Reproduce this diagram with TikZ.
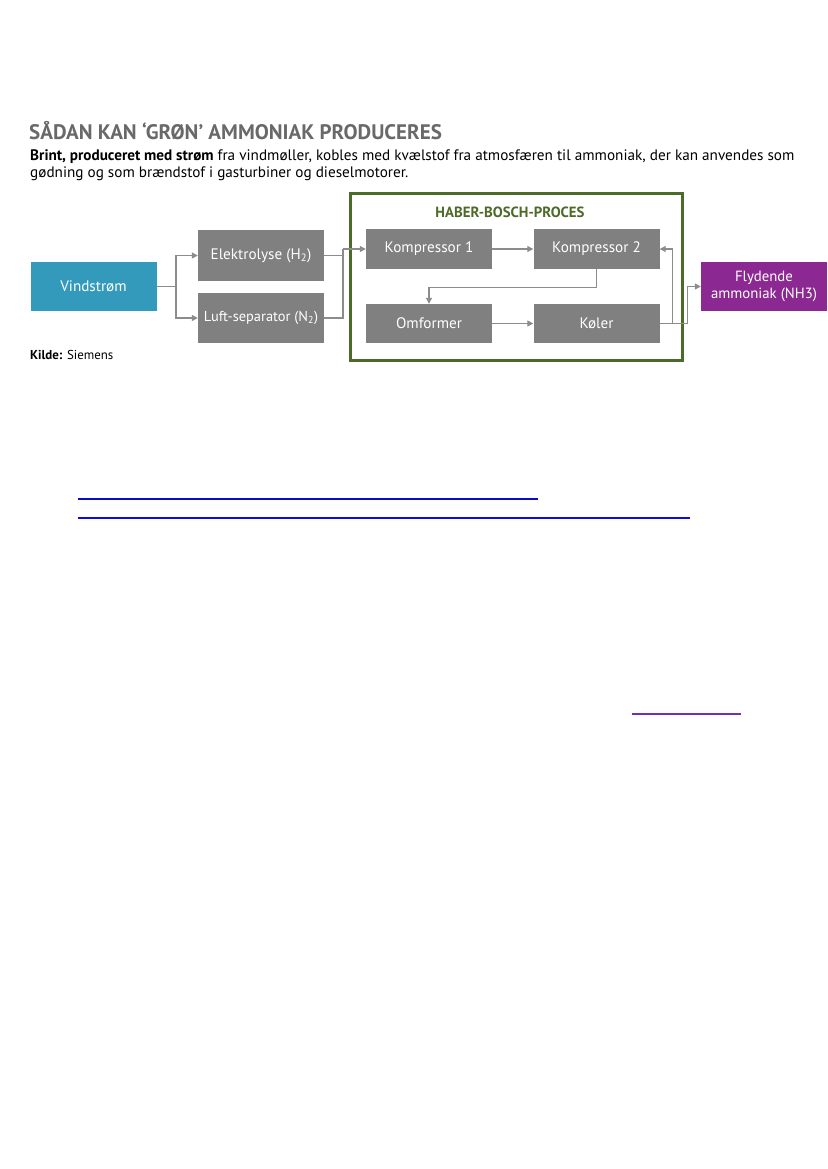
\documentclass[tikz,border=0pt]{standalone}
\usepackage{fontspec}
\setmainfont{PT Sans}
\usetikzlibrary{arrows.meta}
\definecolor{boxgray}{RGB}{128,128,128}
\definecolor{linegray}{RGB}{140,140,140}
\definecolor{teal}{RGB}{52,154,188}
\definecolor{purp}{RGB}{140,40,145}
\definecolor{hbgreen}{RGB}{76,106,40}
\definecolor{titlegray}{RGB}{105,105,105}
\begin{document}
\begin{tikzpicture}[x=1pt,y=-1pt,
  gbox/.style={fill=boxgray,text=white,minimum width=126pt,font=\fontsize{15.2}{17}\selectfont,inner sep=0pt},
  conn/.style={draw=linegray,line width=1.2pt},
  arr/.style={conn,-{Triangle[width=6pt,length=6pt]}},
  link/.style={line width=1.5pt}]
\useasboundingbox (0,0) rectangle (827,1169);
\fill[white] (0,0) rectangle (827,1169);
% heading
\node[anchor=base west,inner sep=0pt,text=titlegray,font=\fontsize{21}{24}\bfseries\selectfont] (title) at (29,140) {SÅDAN KAN ‘GRØN’ AMMONIAK PRODUCERES};
\node[anchor=base west,inner sep=0pt,font=\fontsize{15.2}{17}\selectfont] (sub1) at (30,161) {\textbf{Brint, produceret med strøm} fra vindmøller, kobles med kvælstof fra atmosfæren til ammoniak, der kan anvendes som};
\node[anchor=base west,inner sep=0pt,font=\fontsize{15.2}{17}\selectfont] (sub2) at (30,178) {gødning og som brændstof i gasturbiner og dieselmotorer.};
% boxes
\node[gbox,fill=teal,minimum height=49pt] (vind) at (93.5,286.5) {Vindstrøm};
\node[gbox,minimum height=51pt] (el) at (261,255.5) {Elektrolyse (H\textsubscript{2})};
\node[gbox,minimum height=50pt,font=\fontsize{14.4}{17}\selectfont] (luft) at (261,318) {Luft-separator (N\textsubscript{2})};
\node[draw=hbgreen,line width=3pt,minimum width=332pt,minimum height=166pt,inner sep=0pt] (hb) at (516,277) {};
\node[text=hbgreen,font=\fontsize{14.8}{17}\bfseries\selectfont,inner sep=0pt] (hbt) at (510,212) {HABER-BOSCH-PROCES};
\node[gbox,minimum height=40pt] (k1) at (429,249) {Kompressor 1};
\node[gbox,minimum height=40pt] (k2) at (596.5,249) {Kompressor 2};
\node[gbox,minimum height=39pt] (omf) at (429,323.5) {Omformer};
\node[gbox,minimum height=39pt] (kol) at (596.5,323.5) {Køler};
\node[gbox,fill=purp,minimum height=49pt,align=center,font=\fontsize{14.8}{17}\selectfont] (fly) at (764,286.5) {Flydende\\ammoniak (NH3)};
\node[anchor=base west,inner sep=0pt,font=\fontsize{12.9}{15}\selectfont] (kilde) at (30,359) {\textbf{Kilde:} Siemens};
% connectors
\coordinate (split) at (176,286.5);
\coordinate (jn) at (343,249);
\draw[conn] (vind.east) -- (split);
\draw[arr] (split) |- (el.west);
\draw[arr] (split) |- (luft.west);
\draw[conn] (el.east) -- (el.east -| jn);
\draw[conn] (luft.east) -| (jn);
\draw[arr] (jn) -- (k1.west);
\draw[arr] (k1.east) -- (k2.west);
\draw[arr] (k2.south) -- ++(0,18) -| (omf.north);
\draw[arr] (omf.east) -- (kol.west);
\draw[arr] (kol.east) -- ++(13,0) |- (k2.east);
\draw[arr] (kol.east) -- ++(28,0) |- (fly.west);
% link underlines
\coordinate (l1a) at (78,499); \coordinate (l1b) at (538,499);
\coordinate (l2a) at (78,518); \coordinate (l2b) at (690,518);
\coordinate (l3a) at (632,714); \coordinate (l3b) at (741,714);
\draw[link,draw={rgb,255:red,10;green,10;blue,200}] (l1a) -- (l1b);
\draw[link,draw={rgb,255:red,10;green,10;blue,235}] (l2a) -- (l2b);
\draw[link,draw={rgb,255:red,112;green,48;blue,180}] (l3a) -- (l3b);
\end{tikzpicture}
\end{document}
